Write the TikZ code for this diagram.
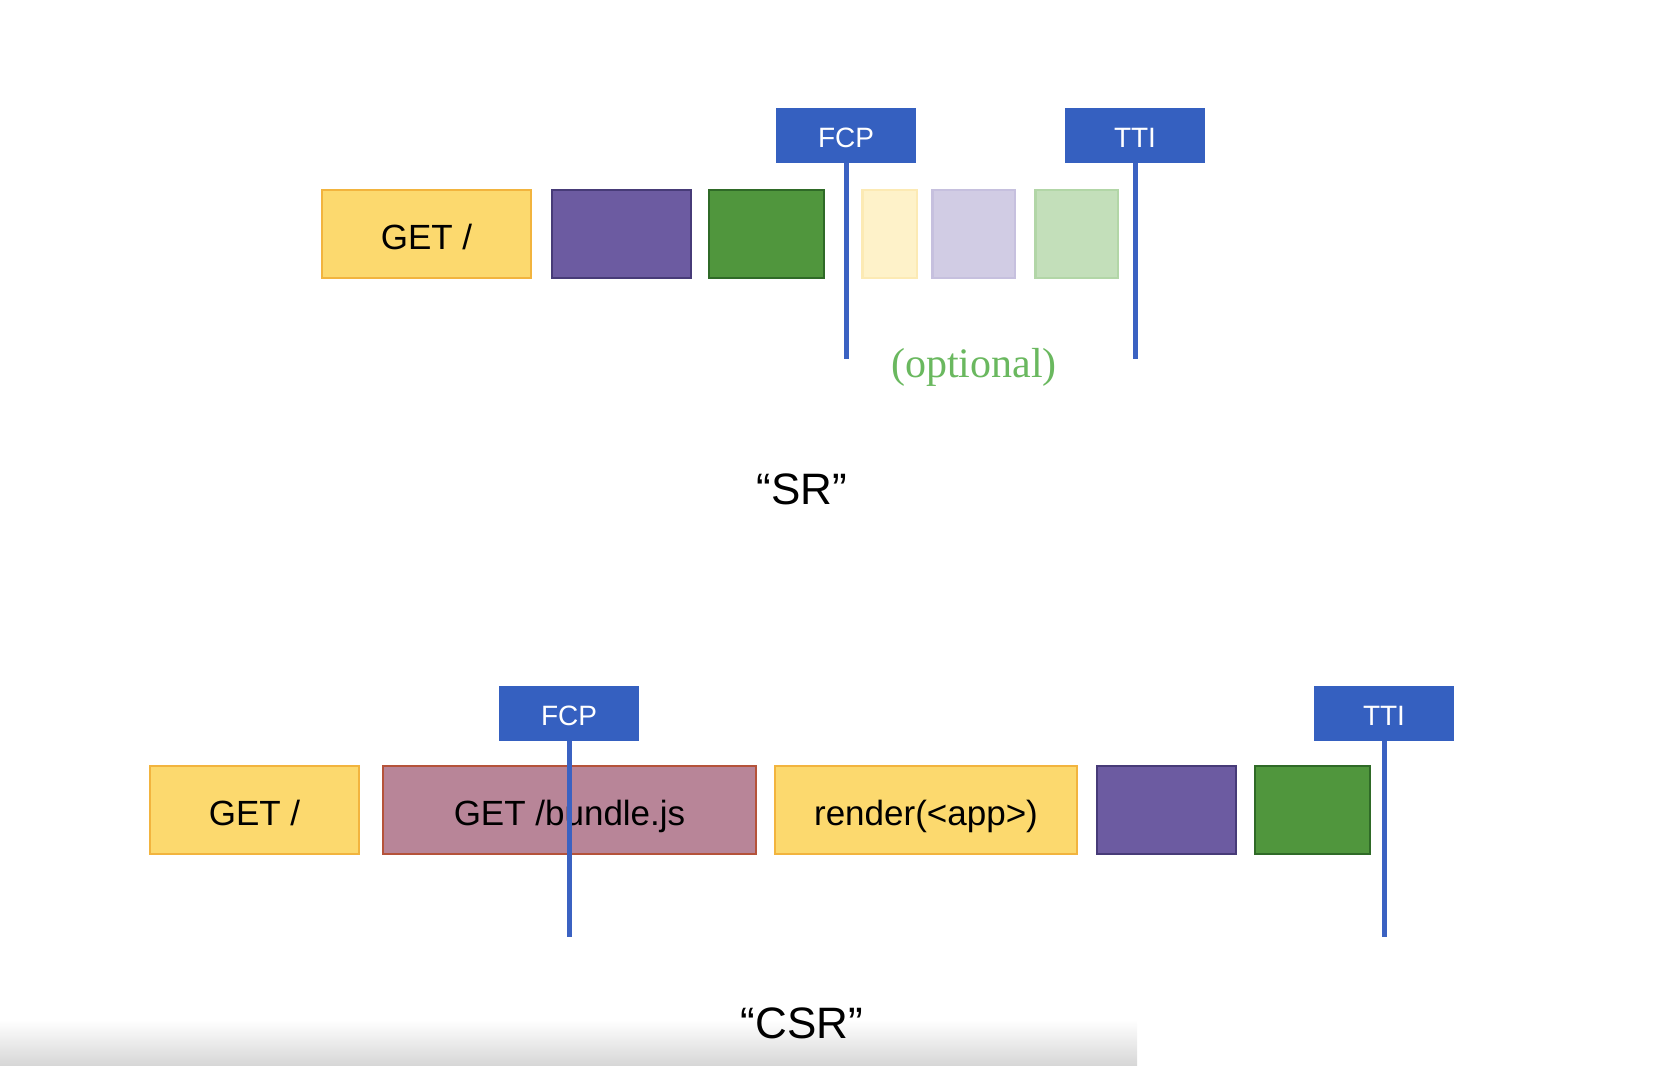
\documentclass[tikz,border=0pt]{standalone}
\usepackage{fontspec}
\setmainfont{Liberation Sans}
\newfontfamily\optfont{Liberation Serif}
\usepackage{xcolor}
\usepackage{tikz}
\usetikzlibrary{positioning}

\definecolor{getyellow}{HTML}{FCD96E}
\definecolor{getorange}{HTML}{F2B43E}
\definecolor{jspurple}{HTML}{6C5BA1}
\definecolor{jspurpledark}{HTML}{473B78}
\definecolor{jsgreen}{HTML}{50963D}
\definecolor{jsgreendark}{HTML}{2F6A27}
\definecolor{paleyellow}{HTML}{FEF2C9}
\definecolor{paleyellowline}{HTML}{FCEAB4}
\definecolor{palepurple}{HTML}{D1CCE4}
\definecolor{palepurpleline}{HTML}{C6C0DE}
\definecolor{palegreen}{HTML}{C3DFBA}
\definecolor{palegreenline}{HTML}{B2D6A7}
\definecolor{bundlemauve}{HTML}{B88598}
\definecolor{bundlered}{HTML}{B5533A}
\definecolor{flagblue}{HTML}{3560C0}
\definecolor{lineblue}{HTML}{3B62C2}
\definecolor{optgreen}{HTML}{6AB85F}
\definecolor{shadowgrey}{HTML}{D6D6D6}

\begin{document}
\begin{tikzpicture}[x=0.5pt, y=-0.5pt]

	\tikzstyle{box}=[draw, line width=1.2pt, outer sep=0pt, minimum height=43.8pt, inner sep=0pt, text height=15.1pt, text depth=0pt, font=\fontsize{17.5}{20}\selectfont]
	\tikzstyle{getbox}=[box, fill=getyellow, draw=getorange]
	\tikzstyle{purplebox}=[box, fill=jspurple, draw=jspurpledark, minimum width=69.3pt]
	\tikzstyle{greenbox}=[box, fill=jsgreen, draw=jsgreendark, minimum width=57.5pt]
	\tikzstyle{bundlebox}=[box, fill=bundlemauve, draw=bundlered]
	\tikzstyle{flag}=[fill=flagblue, text=white, minimum width=70pt, minimum height=27.5pt, inner sep=0pt, text height=12pt, text depth=0pt, font=\fontsize{14}{16}\selectfont]
	\tikzstyle{flagline}=[draw=lineblue, line width=2.5pt]
	\tikzstyle{caption}=[font=\fontsize{22}{26}\selectfont]

	\useasboundingbox (0,0) rectangle (1662,1066);
	\shade[top color=white, bottom color=shadowgrey] (0,1020) rectangle (1137,1066);

	% SR row
	\node[getbox, minimum width=104.3pt, anchor=north west] (srGet) at (322.2,190.2) {GET /};
	\node[purplebox] (srPurple) [right=10.7pt of srGet] {};
	\node[greenbox] (srGreen) [right=9.2pt of srPurple] {};
	\node[box, fill=paleyellow, draw=paleyellowline, minimum width=27.3pt] (srPaleYellow) [right=19.2pt of srGreen] {};
	\node[box, fill=palepurple, draw=palepurpleline, minimum width=41.3pt] (srPalePurple) [right=7.7pt of srPaleYellow] {};
	\node[box, fill=palegreen, draw=palegreenline, minimum width=41.3pt] (srPaleGreen) [right=10.2pt of srPalePurple] {};

	\node[flag] (srFcp) at (846,135.5) {FCP};
	\node[flag] (srTti) at (1135,135.5) {TTI};
	\coordinate (srFcpEnd) at (846,359);
	\coordinate (srTtiEnd) at (1135,359);
	\draw[flagline] (srFcp.south) -- (srFcpEnd);
	\draw[flagline] (srTti.south) -- (srTtiEnd);

	\node[text=optgreen, font=\optfont\fontsize{21}{24}\selectfont] (srOptional) at (974,367) {(optional)};
	\node[caption] (srCaption) at (802,489) {“SR”};

	% CSR row
	\node[getbox, minimum width=104.3pt, anchor=north west] (csrGet) at (150.2,766.2) {GET /};
	\node[bundlebox, minimum width=186.3pt] (csrBundle) [right=12.2pt of csrGet] {GET /bundle.js};
	\node[getbox, minimum width=150.8pt] (csrRender) [right=9.7pt of csrBundle] {render(<app>)};
	\node[purplebox] (csrPurple) [right=10.2pt of csrRender] {};
	\node[greenbox] (csrGreen) [right=9.7pt of csrPurple] {};

	\node[flag] (csrFcp) at (569,713) {FCP};
	\node[flag] (csrTti) at (1384,713) {TTI};
	\coordinate (csrFcpEnd) at (569,937);
	\coordinate (csrTtiEnd) at (1384,937);
	\draw[flagline] (csrFcp.south) -- (csrFcpEnd);
	\draw[flagline] (csrTti.south) -- (csrTtiEnd);

	\node[caption] (csrCaption) at (802,1023) {“CSR”};

\end{tikzpicture}
\end{document}
